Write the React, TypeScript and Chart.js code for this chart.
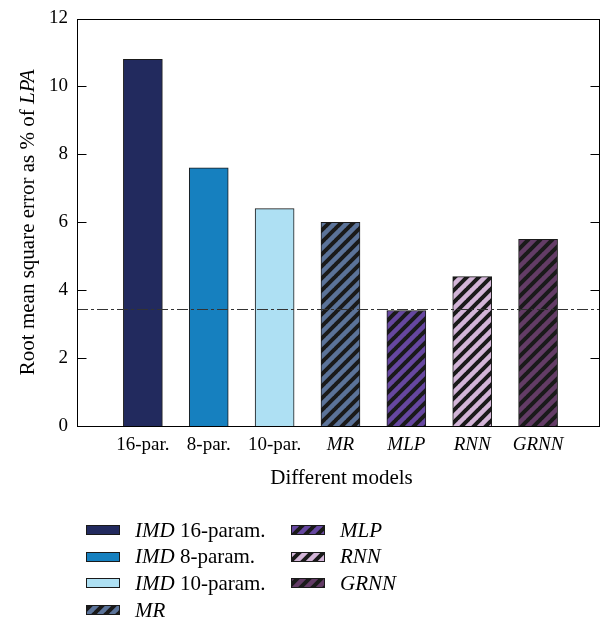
import React, { useEffect, useRef } from 'react';
import { Chart, registerables } from 'chart.js';

Chart.register(...registerables);

const categories = ['16-par.', '8-par.', '10-par.', 'MR', 'MLP', 'RNN', 'GRNN'];
const italicCategory = [false, false, false, true, true, true, true];
const rmseValues = [10.8, 7.6, 6.4, 6.0, 3.4, 4.4, 5.5];
const barColors = ['#222a5e', '#1680bf', '#aee0f3', '#5b7399', '#6647a0', '#d3b5d8', '#633c66'];
const hatched = [false, false, false, true, true, true, true];
const legendItalic = ['IMD', 'IMD', 'IMD', 'MR', 'MLP', 'RNN', 'GRNN'];
const legendNormal = [' 16-param.', ' 8-param.', ' 10-param.', '', '', '', ''];
const yTickValues = [0, 2, 4, 6, 8, 10, 12];
const referenceLine = 3.44;
const yTitleNormal = 'Root mean square error as % of ';
const yTitleItalic = 'LPA';
const xTitle = 'Different models';

const FONT = "'Liberation Serif', 'Times New Roman', serif";
const FS = 19;
const FS_TEXT = 21;

function makeHatch(color: string): CanvasPattern | string {
  const s = 12;
  const c = document.createElement('canvas');
  c.width = s;
  c.height = s;
  const g = c.getContext('2d');
  if (!g) return color;
  g.fillStyle = color;
  g.fillRect(0, 0, s, s);
  g.strokeStyle = '#1a1a1a';
  g.lineWidth = 4;
  g.beginPath();
  for (let k = -1; k <= 1; k++) {
    g.moveTo(k * s - 1, s + 1);
    g.lineTo(k * s + s + 1, -1);
  }
  g.stroke();
  const p = g.createPattern(c, 'repeat');
  return p || color;
}

export default function App() {
  const ref = useRef<HTMLCanvasElement | null>(null);

  useEffect(() => {
    if (!ref.current) return;
    const fills = barColors.map((c, i) => (hatched[i] ? makeHatch(c) : c));

    const decor = {
      id: 'decor',
      afterDatasetsDraw(chart: any) {
        const { ctx, chartArea, scales } = chart;
        const { left, right, top, bottom } = chartArea;
        const y = scales.y;
        ctx.save();
        const ry = Math.round(y.getPixelForValue(referenceLine)) + 0.5;
        ctx.setLineDash([11, 3, 3, 3]);
        ctx.strokeStyle = '#333';
        ctx.lineWidth = 1;
        ctx.beginPath();
        ctx.moveTo(left, ry);
        ctx.lineTo(right, ry);
        ctx.stroke();
        ctx.setLineDash([]);
        ctx.strokeStyle = '#000';
        ctx.lineWidth = 1;
        const L = Math.round(left) + 0.5;
        const T = Math.round(top) + 0.5;
        const R = Math.round(right) - 0.5;
        const B = Math.round(bottom) + 0.5;
        ctx.strokeRect(L, T, R - L, B - T);
        ctx.beginPath();
        yTickValues.forEach((v) => {
          const py = Math.round(y.getPixelForValue(v)) + 0.5;
          ctx.moveTo(L, py);
          ctx.lineTo(L + 9, py);
          ctx.moveTo(R - 9, py);
          ctx.lineTo(R, py);
        });
        ctx.stroke();
        ctx.restore();
      },
      afterDraw(chart: any) {
        const { ctx, chartArea } = chart;
        const { left, right, top, bottom } = chartArea;
        ctx.save();
        ctx.fillStyle = '#000';
        ctx.textBaseline = 'middle';
        // y title
        ctx.save();
        ctx.translate(28, (top + bottom) / 2);
        ctx.rotate(-Math.PI / 2);
        ctx.font = `${FS_TEXT}px ${FONT}`;
        const w1 = ctx.measureText(yTitleNormal).width;
        ctx.font = `italic ${FS_TEXT}px ${FONT}`;
        const w2 = ctx.measureText(yTitleItalic).width;
        const sx = -(w1 + w2) / 2;
        ctx.textAlign = 'left';
        ctx.font = `${FS_TEXT}px ${FONT}`;
        ctx.fillText(yTitleNormal, sx, 0);
        ctx.font = `italic ${FS_TEXT}px ${FONT}`;
        ctx.fillText(yTitleItalic, sx + w1, 0);
        ctx.restore();
        // x title
        ctx.font = `${FS_TEXT}px ${FONT}`;
        ctx.textAlign = 'center';
        ctx.fillText(xTitle, (left + right) / 2 + 3, bottom + 52);
        // legend
        ctx.textAlign = 'left';
        const colX = [86, 291];
        const rowY0 = bottom + 104;
        const rowStep = 26.7;
        legendItalic.forEach((it, i) => {
          const col = i < 4 ? 0 : 1;
          const row = i < 4 ? i : i - 4;
          const sx0 = colX[col];
          const cy = rowY0 + row * rowStep;
          ctx.fillStyle = fills[i] as any;
          ctx.fillRect(sx0, Math.round(cy - 5), 34, 10);
          ctx.strokeStyle = '#1a1a1a';
          ctx.lineWidth = 1;
          ctx.strokeRect(sx0 + 0.5, Math.round(cy - 5) + 0.5, 33, 9);
          ctx.fillStyle = '#000';
          const tx = sx0 + 49;
          ctx.font = `italic ${FS_TEXT}px ${FONT}`;
          ctx.fillText(it, tx, cy + 1);
          const iw = ctx.measureText(it).width;
          ctx.font = `${FS_TEXT}px ${FONT}`;
          if (legendNormal[i]) ctx.fillText(legendNormal[i], tx + iw, cy + 1);
        });
        ctx.restore();
      },
    };

    const chart = new Chart(ref.current, {
      type: 'bar',
      data: {
        datasets: [
          {
            data: rmseValues.map((v, i) => ({ x: i + 1, y: v })),
            backgroundColor: fills as any,
            borderColor: '#1a1a1a',
            borderWidth: 1,
            barThickness: 39,
          },
        ],
      },
      options: {
        animation: false,
        responsive: false,
        layout: { padding: { left: 0, right: 10, top: 0, bottom: 124 } },
        plugins: { legend: { display: false }, tooltip: { enabled: false } },
        scales: {
          x: {
            type: 'linear',
            offset: false,
            min: 0,
            max: 7.94,
            grid: { display: false, drawTicks: false },
            border: { display: false },
            afterBuildTicks: (s: any) => {
              s.ticks = categories.map((_, i) => ({ value: i + 1 }));
            },
            afterFit: (s: any) => {
              s.height = 70;
            },
            ticks: {
              autoSkip: false,
              maxRotation: 0,
              padding: 8,
              color: '#000',
              font: (c: any) => ({
                family: FONT,
                size: FS,
                style: italicCategory[c.index] ? 'italic' : 'normal',
              }),
              callback: (v: any) => categories[Math.round(v) - 1] ?? '',
            },
          },
          y: {
            min: 0,
            max: 12,
            grid: { display: false, drawTicks: false },
            border: { display: false },
            afterFit: (s: any) => {
              s.width = 77;
            },
            ticks: {
              stepSize: 2,
              padding: 9,
              color: '#000',
              font: { family: FONT, size: FS, lineHeight: 1 },
            },
          },
        },
      },
      plugins: [decor],
    } as any);
    return () => chart.destroy();
  }, []);

  return (
    <canvas
      ref={ref}
      width={610}
      height={620}
      style={{ display: 'block', position: 'fixed', left: 0, top: 0 }}
    />
  );
}
